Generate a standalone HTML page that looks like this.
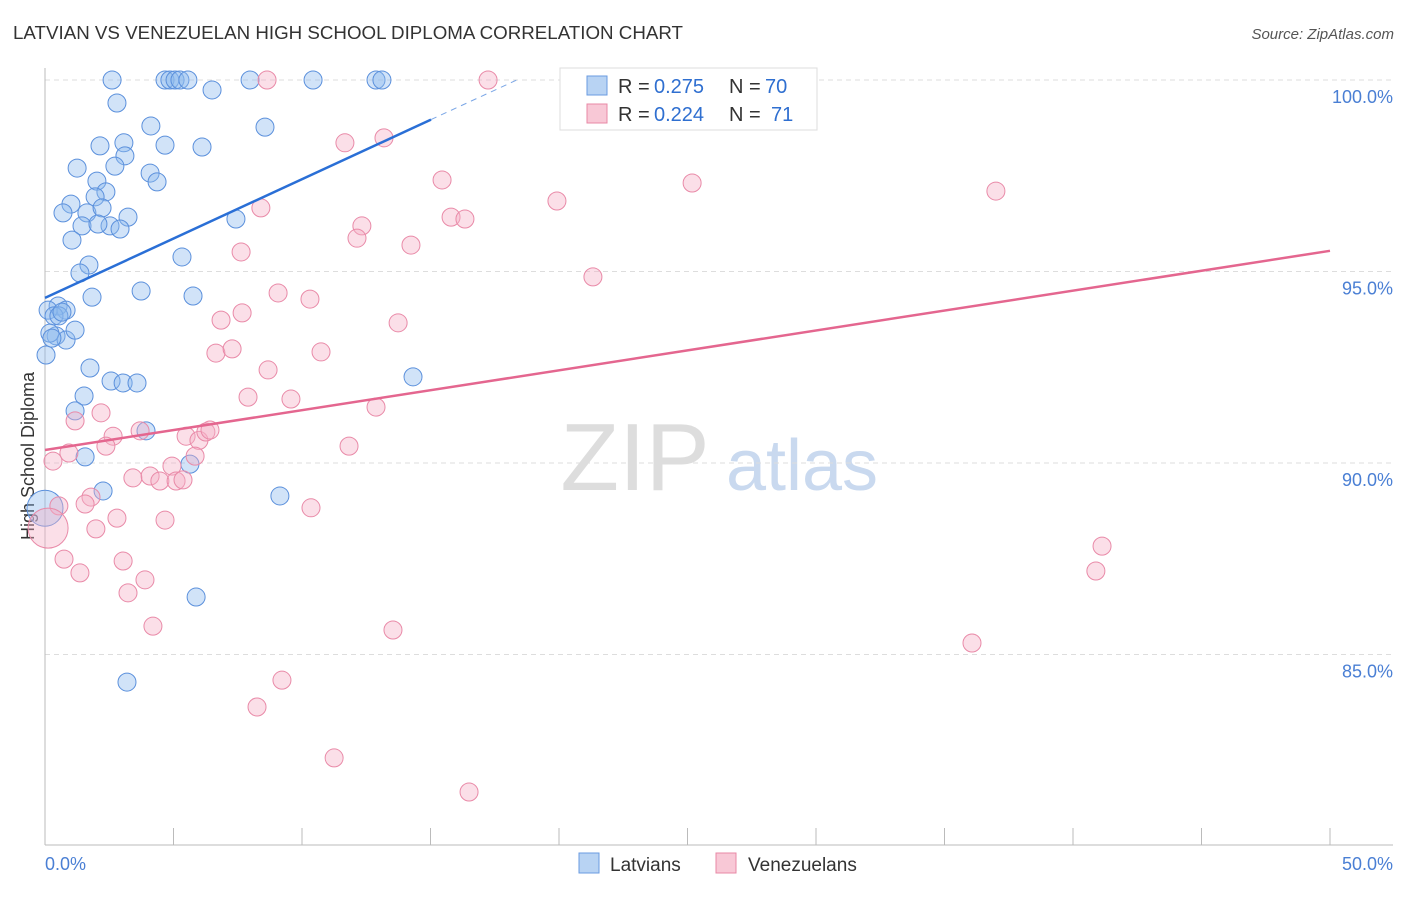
<!DOCTYPE html>
<html><head><meta charset="utf-8"><style>
body{margin:0;background:#fff;font-family:"Liberation Sans",sans-serif;}
svg text{font-family:"Liberation Sans",sans-serif;}
</style></head><body>
<svg id="chart" width="1406" height="892" xmlns="http://www.w3.org/2000/svg">
<text x="13" y="39" font-size="18" fill="#333" textLength="670" lengthAdjust="spacingAndGlyphs">LATVIAN VS VENEZUELAN HIGH SCHOOL DIPLOMA CORRELATION CHART</text>
<text x="1394" y="39" font-size="15" fill="#555" text-anchor="end" font-style="italic">Source: ZipAtlas.com</text>
<text transform="translate(34,456) rotate(-90)" font-size="18" fill="#333" text-anchor="middle">High School Diploma</text>
<g><text x="635" y="490" font-size="96" fill="#ddd" text-anchor="middle" font-family="Liberation Serif,serif">ZIP</text><text x="802" y="490" font-size="72" fill="#c9d9ef" text-anchor="middle">atlas</text></g>
<g id="grid"></g><g id="marks"></g><g id="lines"></g>
<g>
<rect x="560" y="68" width="257" height="62" fill="#fff" stroke="#ddd"/>
<rect x="587" y="76" width="20" height="19" fill="#b8d3f3" stroke="#6a9be0"/>
<text x="618" y="93" font-size="20" fill="#333">R =</text><text x="654" y="93" font-size="20" fill="#2f6fd0">0.275</text>
<text x="729" y="93" font-size="20" fill="#333">N =</text><text x="765" y="93" font-size="20" fill="#2f6fd0">70</text>
<rect x="587" y="104" width="20" height="19" fill="#f8c8d6" stroke="#e888a6"/>
<text x="618" y="121" font-size="20" fill="#333">R =</text><text x="654" y="121" font-size="20" fill="#2f6fd0">0.224</text>
<text x="729" y="121" font-size="20" fill="#333">N =</text><text x="771" y="121" font-size="20" fill="#2f6fd0">71</text>
</g>
<g>
<rect x="579" y="853" width="20" height="20" fill="#b8d3f3" stroke="#6a9be0"/><text x="610" y="871" font-size="19" fill="#333">Latvians</text>
<rect x="716" y="853" width="20" height="20" fill="#f8c8d6" stroke="#e888a6"/><text x="748" y="871" font-size="19" fill="#333">Venezuelans</text>
</g>
</svg>
<script>
const blueX=[2.61,4.67,4.86,5.06,5.25,5.56,7.98,10.43,12.88,13.11,2.80,6.50,4.12,8.56,2.14,3.07,4.67,6.11,3.11,2.72,1.25,4.09,4.36,2.02,2.37,1.95,1.01,0.70,1.63,2.22,3.23,7.43,1.44,2.53,2.92,2.06,1.05,1.71,1.36,5.33,3.74,5.76,1.83,0.51,0.12,0.82,0.35,0.43,0.82,1.17,0.19,0.04,1.75,14.32,2.57,3.04,3.58,1.52,1.17,3.93,1.56,5.64,2.26,9.14,0.0,5.88,3.19,0.54,0.66,0.27];
const blueY=[100,100,100,100,100,100,100,100,100,100,99.40,99.74,98.80,98.77,98.28,98.36,98.30,98.25,98.02,97.75,97.70,97.57,97.34,97.36,97.08,96.95,96.76,96.53,96.53,96.66,96.42,96.37,96.19,96.19,96.11,96.24,95.82,95.17,94.96,95.38,94.49,94.36,94.33,94.10,93.99,93.99,93.84,93.32,93.21,93.47,93.39,92.82,92.48,92.25,92.14,92.09,92.09,91.75,91.36,90.84,90.16,89.97,89.27,89.14,88.82,86.50,84.28,93.84,93.94,93.26];
const blueR=[9,9,9,9,9,9,9,9,9,9,9,9,9,9,9,9,9,9,9,9,9,9,9,9,9,9,9,9,9,9,9,9,9,9,9,9,9,9,9,9,9,9,9,9,9,9,9,9,9,9,9,9,9,9,9,9,9,9,9,9,9,9,9,9,18,9,9,9,9,9];
const pinkX=[17.24,8.64,11.67,13.19,15.45,19.92,25.18,37.0,8.40,15.80,16.34,12.33,12.14,14.24,7.63,21.32,9.07,10.31,6.85,7.67,13.74,6.65,7.28,8.68,10.74,7.90,9.57,12.88,2.18,1.17,11.83,2.65,0.93,0.31,2.37,5.49,5.99,6.26,6.42,5.84,3.70,3.42,4.09,4.94,4.47,5.10,5.37,1.79,1.56,10.35,0.54,2.80,1.98,4.67,0.74,1.36,3.04,3.89,3.23,4.20,13.54,36.07,41.13,40.89,9.22,8.25,11.25,16.50,0.12];
const pinkY=[100,100,98.36,98.49,97.39,96.84,97.31,97.10,96.66,96.42,96.37,96.19,95.87,95.69,95.51,94.86,94.44,94.28,93.73,93.92,93.66,92.87,92.98,92.43,92.90,91.72,91.67,91.46,91.31,91.10,90.44,90.70,90.26,90.05,90.44,90.70,90.59,90.81,90.86,90.18,90.84,89.61,89.66,89.92,89.53,89.53,89.56,89.11,88.93,88.83,88.88,88.56,88.28,88.51,87.49,87.13,87.44,86.95,86.61,85.74,85.64,85.30,87.83,87.18,84.33,83.63,82.30,81.41,88.30];
const pinkR=[9,9,9,9,9,9,9,9,9,9,9,9,9,9,9,9,9,9,9,9,9,9,9,9,9,9,9,9,9,9,9,9,9,9,9,9,9,9,9,9,9,9,9,9,9,9,9,9,9,9,9,9,9,9,9,9,9,9,9,9,9,9,9,9,9,9,9,9,20];
const yTicks=[100,95,90,85];
const yTickLabels=["100.0%","95.0%","90.0%","85.0%"];
const blueTrend=[94.31,0.31,15.02,18.5];
const pinkTrend=[90.34,0.104,50];
const NS="http://www.w3.org/2000/svg";
const sx=v=>45+v*25.7, sy=v=>80+(100-v)*38.3;
function mk(t,a,p){const e=document.createElementNS(NS,t);for(const k in a)e.setAttribute(k,a[k]);document.getElementById(p).appendChild(e);return e;}
yTicks.forEach((t,i)=>{
 const g=mk('line',{x1:45,x2:1393,y1:sy(t),y2:sy(t),stroke:'#ddd','stroke-dasharray':'5,4'},'grid');
 
 
 const l=mk('text',{x:1393,y:sy(t)+23,'font-size':18,fill:'#4a7fd4','text-anchor':'end'},'grid');
 l.textContent=yTickLabels[i];
 
 
});
const ax=mk('line',{x1:45,x2:45,y1:68,y2:845,stroke:'#bbb'},'grid');


const bx=mk('line',{x1:45,x2:1393,y1:845,y2:845,stroke:'#bbb'},'grid');


for(let i=0;i<=10;i++){const t=mk('line',{x1:sx(i*5),x2:sx(i*5),y1:828,y2:845,stroke:'#bbb'},'grid');
 
 }
[[0,'0.0%','start',45],[50,'50.0%','end',1393]].forEach(d=>{const t=mk('text',{x:d[3],y:870,'font-size':18,fill:'#4a7fd4','text-anchor':d[2]},'grid');t.textContent=d[1];
 
 });
blueX.forEach((x,i)=>{const c=mk('circle',{cx:sx(x),cy:sy(blueY[i]),r:blueR[i],fill:'rgba(140,184,238,0.4)',stroke:'#5b90dc','stroke-width':1},'marks');
 
 });
pinkX.forEach((x,i)=>{const c=mk('circle',{cx:sx(x),cy:sy(pinkY[i]),r:pinkR[i],fill:'rgba(246,176,198,0.4)',stroke:'#e98aa8','stroke-width':1},'marks');
 
 });
const bt=blueTrend, f=x=>bt[0]+bt[1]*x;
const l1=mk('line',{x1:sx(0),y1:sy(f(0)),x2:sx(bt[2]),y2:sy(f(bt[2])),stroke:'#2a6fd6','stroke-width':2.5},'lines');


const l2=mk('line',{x1:sx(bt[2]),y1:sy(f(bt[2])),x2:sx(bt[3]),y2:sy(f(bt[3])),stroke:'#7aa6e6','stroke-width':1,'stroke-dasharray':'6,5'},'lines');


const pt=pinkTrend;
const l3=mk('line',{x1:sx(0),y1:sy(pt[0]),x2:sx(pt[2]),y2:sy(pt[0]+pt[1]*pt[2]),stroke:'#e4668f','stroke-width':2.5},'lines');


</script>
</body></html>
